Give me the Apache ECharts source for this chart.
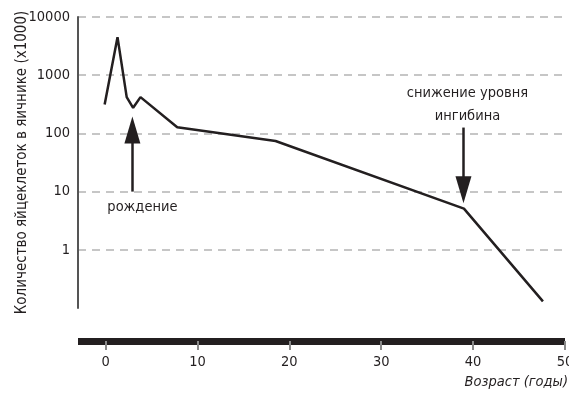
<!DOCTYPE html>
<html>
<head>
<meta charset="utf-8">
<script src="https://cdn.jsdelivr.net/npm/echarts@6/dist/echarts.min.js"></script>
<style>
html,body{margin:0;padding:0;background:#fff;}
#chart{width:569px;height:396px;}
</style>
</head>
<body>
<div id="chart"></div>
<script>
// Data
var ages = [-0.1, 1.3, 2.3, 3.0, 3.8, 7.8, 18.5, 39.0, 47.6];
var counts = [315, 4500, 420, 275, 420, 128, 74, 5.1, 0.13];
var xTicks = [0, 10, 20, 30, 40, 50];
var yTicks = [1, 10, 100, 1000, 10000];
// arrows: shaft start value and arrowhead centre value
var birthArrow = {age: 2.92, from: 10, to: 114, text: 'рождение'};
var inhibinArrow = {age: 38.95, from: 126, to: 10.8, text: 'снижение уровня\nингибина'};
var yAxisTitle = 'Количество яйцеклеток в яичнике (x1000)';
var xAxisTitle = 'Возраст (годы)';

var FONT = "'DejaVu Sans Condensed', 'Liberation Sans Narrow', 'Noto Sans', sans-serif";
var INK = '#231f20';

var chart = echarts.init(document.getElementById('chart'), null, {renderer: 'canvas'});
var lineData = ages.map(function (a, i) { return [a, counts[i]]; });

chart.setOption({
  animation: false,
  backgroundColor: '#fff',
  grid: {left: 78, right: 4, top: 17, bottom: 88, containLabel: false, outerBoundsMode: 'none'},
  graphic: [{
    type: 'text', right: 1, top: 375,
    style: {text: xAxisTitle, font: 'italic 14.5px ' + FONT, fill: INK}
  }],
  xAxis: {
    type: 'value', min: -3, max: 50, position: 'bottom', offset: 33,
    axisLine: {show: true, onZero: false, lineStyle: {color: INK, width: 7, cap: 'butt'}},
    axisTick: {show: true, customValues: xTicks, length: 9, lineStyle: {color: '#8a8a8a', width: 2}},
    axisLabel: {customValues: xTicks, margin: 14, fontSize: 14.5, color: INK, fontFamily: FONT},
    splitLine: {show: false}
  },
  yAxis: {
    type: 'log', logBase: 10, min: 0.1, max: 10000,
    name: yAxisTitle, nameLocation: 'middle', nameGap: 48, nameMoveOverlap: false,
    nameTextStyle: {fontSize: 15, color: INK, fontFamily: FONT},
    axisLine: {show: true, onZero: false, lineStyle: {color: '#555', width: 2}},
    axisTick: {show: false},
    axisLabel: {
      margin: 8, fontSize: 14.5, color: INK, fontFamily: FONT,
      formatter: function (v) { return yTicks.indexOf(Math.round(v * 1000) / 1000) >= 0 ? String(Math.round(v)) : ''; }
    },
    splitLine: {show: true, lineStyle: {color: ['rgba(0,0,0,0)', '#b4b4b4', '#b4b4b4', '#b4b4b4', '#b4b4b4', '#b4b4b4'], width: 1.5, type: [8, 6]}}
  },
  series: [{
    type: 'line',
    data: lineData,
    symbol: 'none',
    lineStyle: {color: INK, width: 2.5},
    markLine: {
      silent: true,
      symbol: ['none', 'triangle'],
      symbolSize: [16, 27],
      lineStyle: {color: INK, width: 2.5, type: 'solid'},
      itemStyle: {color: INK},
      data: [
        [{coord: [birthArrow.age, birthArrow.from],
          label: {show: true, position: 'start', formatter: birthArrow.text, color: INK, fontSize: 14.5, fontFamily: FONT, padding: [0, 0, 0, 20], distance: 8}},
         {coord: [birthArrow.age, birthArrow.to]}],
        [{coord: [inhibinArrow.age, inhibinArrow.from],
          label: {show: true, position: 'start', formatter: inhibinArrow.text, color: INK, fontSize: 14.5, lineHeight: 23, fontFamily: FONT, align: 'center', padding: [0, 0, 0, 8], distance: 0}},
         {coord: [inhibinArrow.age, inhibinArrow.to]}]
      ]
    }
  }]
});
</script>
</body>
</html>
